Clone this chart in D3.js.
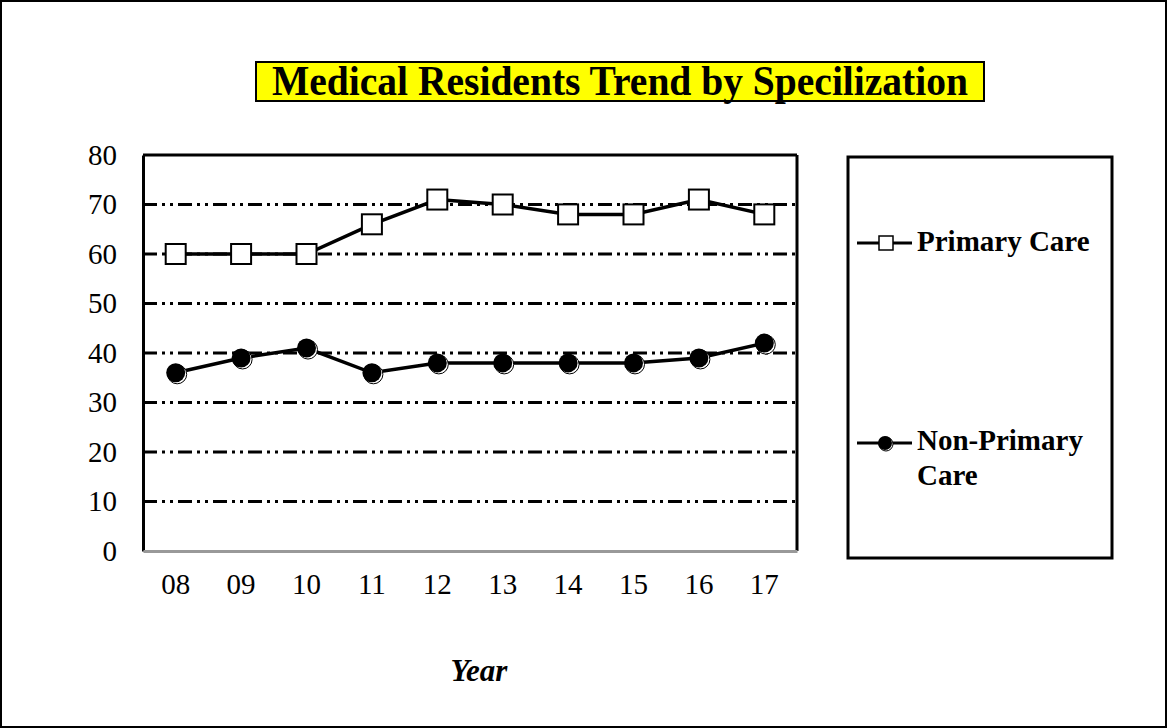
<!DOCTYPE html>
<html>
<head>
<meta charset="utf-8">
<script src="https://cdn.jsdelivr.net/npm/d3@7"></script>
<style>
  html, body { margin: 0; padding: 0; background: #fff; }
  svg text { font-family: "Liberation Serif", "Times New Roman", serif; fill: #000; }
</style>
</head>
<body>
<div id="chart"></div>
<script>
// data
const years = ['08', '09', '10', '11', '12', '13', '14', '15', '16', '17'];
const primaryCare = [60, 60, 60, 66, 71, 70, 68, 68, 71, 68];
const nonPrimaryCare = [36, 39, 41, 36, 38, 38, 38, 38, 39, 42];
const yTicks = [0, 10, 20, 30, 40, 50, 60, 70, 80];

const W = 1167, H = 728;
const margin = { top: 155, left: 143, right: 370, bottom: 177 };
const w = W - margin.left - margin.right;
const h = H - margin.top - margin.bottom;

const svg = d3.select('#chart').append('svg')
  .attr('width', W).attr('height', H);

// outer frame
svg.append('rect')
  .attr('x', 1).attr('y', 1).attr('width', W - 2).attr('height', H - 2)
  .attr('fill', '#fff').attr('stroke', '#000').attr('stroke-width', 2);

// title box
svg.append('rect')
  .attr('x', 256).attr('y', 62).attr('width', 728).attr('height', 39)
  .attr('fill', '#ffff00').attr('stroke', '#000').attr('stroke-width', 2);
svg.append('text')
  .attr('x', 620).attr('y', 95)
  .attr('text-anchor', 'middle')
  .attr('font-size', 42).attr('font-weight', 'bold')
  .attr('textLength', 696).attr('lengthAdjust', 'spacingAndGlyphs')
  .text('Medical Residents Trend by Specilization');

const g = svg.append('g').attr('transform', `translate(${margin.left},${margin.top})`);

const x = d3.scaleBand().domain(years).range([0, w]);
const y = d3.scaleLinear().domain([0, 80]).range([h, 0]);

// grid lines (dash-dot-dot)
g.append('g')
  .selectAll('line')
  .data(yTicks.filter(t => t > 0 && t < 80))
  .join('line')
  .attr('x1', 0).attr('x2', w)
  .attr('y1', d => y(d)).attr('y2', d => y(d))
  .attr('stroke', '#000').attr('stroke-width', 3)
  .attr('stroke-dasharray', '14,5,3,5,3,5');

// plot frame
g.append('line').attr('x1', 0).attr('x2', w).attr('y1', y(80)).attr('y2', y(80))
  .attr('stroke', '#000').attr('stroke-width', 3);
g.append('line').attr('x1', w).attr('x2', w).attr('y1', y(80)).attr('y2', y(0))
  .attr('stroke', '#000').attr('stroke-width', 3);

// y axis
const yAxis = g.append('g')
  .call(d3.axisLeft(y).tickValues(yTicks).tickSize(0).tickPadding(26));
yAxis.select('.domain').attr('stroke', '#000').attr('stroke-width', 3);
yAxis.selectAll('text').attr('font-size', 29).attr('fill', '#000')
  .attr('font-family', '"Liberation Serif", serif');

// x axis
const xAxis = g.append('g')
  .attr('transform', `translate(0,${h})`)
  .call(d3.axisBottom(x).tickSize(0).tickPadding(22));
xAxis.select('.domain').attr('stroke', '#999').attr('stroke-width', 3);
xAxis.selectAll('text').attr('font-size', 29).attr('fill', '#000')
  .attr('font-family', '"Liberation Serif", serif');

// axis title
svg.append('text')
  .attr('x', 479).attr('y', 681)
  .attr('text-anchor', 'middle')
  .attr('font-size', 31).attr('font-weight', 'bold').attr('font-style', 'italic')
  .text('Year');

const cx = (d, i) => x(years[i]) + x.bandwidth() / 2;
const line = d3.line().x((d, i) => cx(d, i)).y(d => y(d));

// series lines
g.append('path').datum(primaryCare).attr('d', line)
  .attr('fill', 'none').attr('stroke', '#000').attr('stroke-width', 3.5);
g.append('path').datum(nonPrimaryCare).attr('d', line)
  .attr('fill', 'none').attr('stroke', '#000').attr('stroke-width', 3.5);

// markers
g.selectAll('.sq').data(primaryCare).join('rect')
  .attr('class', 'sq')
  .attr('x', (d, i) => cx(d, i) - 10).attr('y', d => y(d) - 10)
  .attr('width', 20).attr('height', 20)
  .attr('fill', '#fff').attr('stroke', '#000').attr('stroke-width', 2);

g.selectAll('.dotShadow').data(nonPrimaryCare).join('circle')
  .attr('class', 'dotShadow')
  .attr('cx', (d, i) => cx(d, i) + 1.5).attr('cy', d => y(d) + 1.5)
  .attr('r', 9.5).attr('fill', '#fff').attr('stroke', '#000').attr('stroke-width', 1);
g.selectAll('.dot').data(nonPrimaryCare).join('circle')
  .attr('class', 'dot')
  .attr('cx', (d, i) => cx(d, i)).attr('cy', d => y(d))
  .attr('r', 9.5).attr('fill', '#000');

// legend
const leg = svg.append('g');
leg.append('rect')
  .attr('x', 848).attr('y', 157).attr('width', 264).attr('height', 401)
  .attr('fill', '#fff').attr('stroke', '#000').attr('stroke-width', 3);

leg.append('line').attr('x1', 857).attr('x2', 912).attr('y1', 243).attr('y2', 243)
  .attr('stroke', '#000').attr('stroke-width', 3);
leg.append('rect').attr('x', 879).attr('y', 236).attr('width', 14).attr('height', 14)
  .attr('fill', '#fff').attr('stroke', '#000').attr('stroke-width', 1.5);
leg.append('text').attr('x', 917).attr('y', 251)
  .attr('font-size', 29).attr('font-weight', 'bold').text('Primary Care');

leg.append('line').attr('x1', 857).attr('x2', 912).attr('y1', 443).attr('y2', 443)
  .attr('stroke', '#000').attr('stroke-width', 3);
leg.append('circle').attr('cx', 886).attr('cy', 444).attr('r', 7)
  .attr('fill', '#fff').attr('stroke', '#000').attr('stroke-width', 1);
leg.append('circle').attr('cx', 885).attr('cy', 443).attr('r', 7).attr('fill', '#000');
leg.append('text').attr('x', 917).attr('y', 450)
  .attr('font-size', 29).attr('font-weight', 'bold').text('Non-Primary');
leg.append('text').attr('x', 917).attr('y', 485)
  .attr('font-size', 29).attr('font-weight', 'bold').text('Care');
</script>
</body>
</html>
